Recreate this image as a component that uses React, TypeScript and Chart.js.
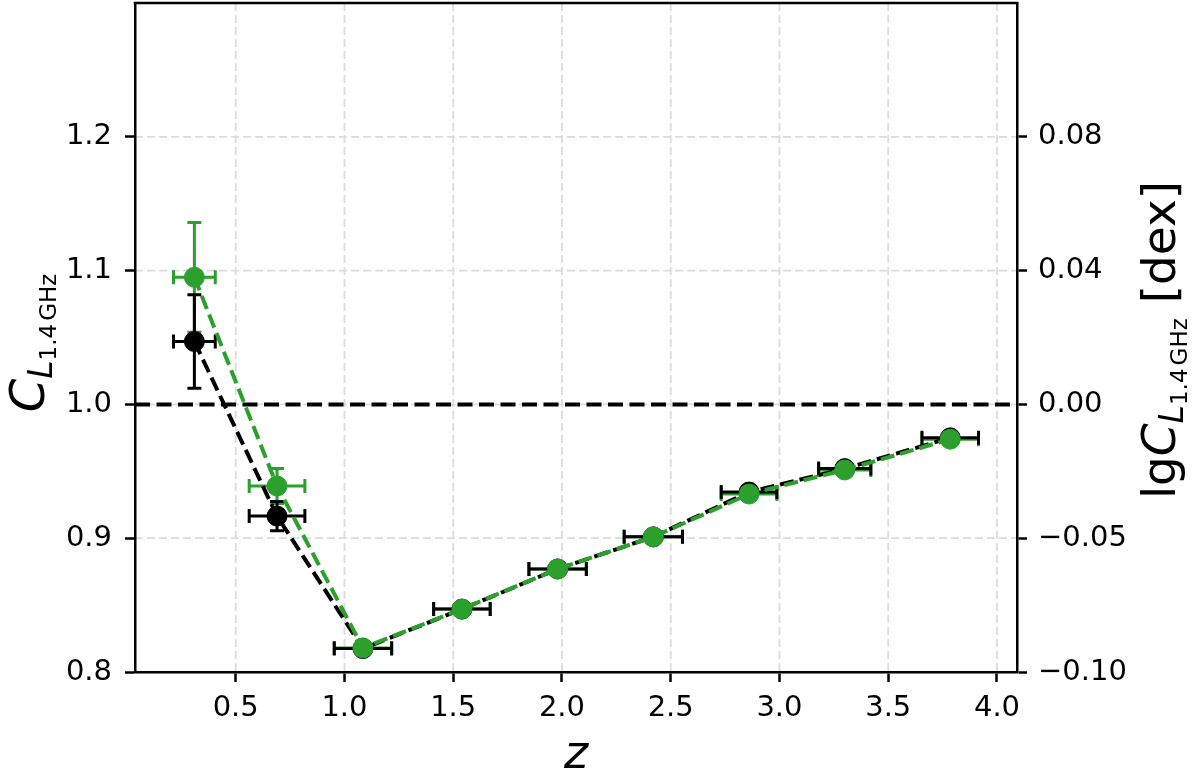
import React, { useEffect, useRef } from "react";
import { Chart, registerables } from "chart.js";

Chart.register(...registerables);

// ---- data ----
const Z = [0.31, 0.69, 1.085, 1.54, 1.98, 2.42, 2.86, 3.3, 3.785];
const Z_ERR = [0.096, 0.128, 0.132, 0.13, 0.132, 0.134, 0.128, 0.12, 0.13];
const C_GREEN = [1.095, 0.939, 0.818, 0.847, 0.877, 0.901, 0.933, 0.951, 0.974];
const C_GREEN_ERR = [0.041, 0.013, 0.004, 0.003, 0.003, 0.003, 0.003, 0.003, 0.003];
const C_BLACK = [1.047, 0.9165, 0.8175, 0.847, 0.877, 0.901, 0.9345, 0.952, 0.975];
const C_BLACK_ERR = [0.035, 0.011, 0.003, 0.003, 0.003, 0.003, 0.003, 0.003, 0.003];

const X_TICKS = [0.5, 1.0, 1.5, 2.0, 2.5, 3.0, 3.5, 4.0];
const Y_TICKS = [0.8, 0.9, 1.0, 1.1, 1.2];
const X_MIN = 0.037;
const X_MAX = 4.092;
const Y_MIN = 0.8;
const Y_MAX = 1.3;
const REF_LEVEL = 1.0;

const GREEN = "#2ca02c";
const BLACK = "#000000";
const FONT = "'DejaVu Sans', sans-serif";

type Part = { text: string; size: number; italic?: boolean; dy?: number; gap?: number };

function drawParts(ctx: CanvasRenderingContext2D, parts: Part[], cx: number, cy: number, rotate: boolean) {
  ctx.save();
  ctx.fillStyle = "#000";
  ctx.textBaseline = "alphabetic";
  ctx.textAlign = "left";
  let total = 0;
  const widths: number[] = [];
  for (const p of parts) {
    ctx.font = `${p.italic ? "italic " : ""}${p.size}px ${FONT}`;
    const w = ctx.measureText(p.text).width + (p.gap || 0);
    widths.push(w);
    total += w;
  }
  ctx.translate(cx, cy);
  if (rotate) ctx.rotate(-Math.PI / 2);
  let x = -total / 2;
  parts.forEach((p, i) => {
    ctx.font = `${p.italic ? "italic " : ""}${p.size}px ${FONT}`;
    ctx.fillText(p.text, x, p.dy || 0);
    x += widths[i];
  });
  ctx.restore();
}

const errorSets = [
  { y: C_GREEN, yerr: C_GREEN_ERR, color: GREEN },
  { y: C_BLACK, yerr: C_BLACK_ERR, color: BLACK },
];

const decorPlugin = {
  id: "decor",
  beforeDraw(chart: any) {
    const { ctx, chartArea: a, scales } = chart;
    const xs = scales.x;
    const ys = scales.y;
    ctx.save();
    ctx.strokeStyle = "#dcdcdc";
    ctx.lineWidth = 1.8;
    ctx.setLineDash([8, 4]);
    for (const v of X_TICKS) {
      const px = xs.getPixelForValue(v);
      ctx.beginPath();
      ctx.moveTo(px, a.top);
      ctx.lineTo(px, a.bottom);
      ctx.stroke();
    }
    for (const v of Y_TICKS) {
      const py = ys.getPixelForValue(v);
      if (Math.abs(py - a.bottom) < 1) continue;
      ctx.beginPath();
      ctx.moveTo(a.left, py);
      ctx.lineTo(a.right, py);
      ctx.stroke();
    }
    ctx.restore();
  },
  beforeDatasetsDraw(chart: any) {
    const { ctx, chartArea: a, scales } = chart;
    const xs = scales.x;
    const ys = scales.y;
    // reference line
    ctx.save();
    ctx.strokeStyle = "#000";
    ctx.lineWidth = 4;
    ctx.setLineDash([15, 6.5]);
    const py = ys.getPixelForValue(REF_LEVEL);
    ctx.beginPath();
    ctx.moveTo(a.left, py);
    ctx.lineTo(a.right, py);
    ctx.stroke();
    ctx.restore();
    // error bars
    ctx.save();
    ctx.setLineDash([]);
    ctx.lineWidth = 3;
    const cap = 7;
    for (const s of errorSets) {
      ctx.strokeStyle = s.color;
      for (let i = 0; i < Z.length; i++) {
        const x0 = xs.getPixelForValue(Z[i] - Z_ERR[i]);
        const x1 = xs.getPixelForValue(Z[i] + Z_ERR[i]);
        const xc = xs.getPixelForValue(Z[i]);
        const yc = ys.getPixelForValue(s.y[i]);
        const y0 = ys.getPixelForValue(s.y[i] - s.yerr[i]);
        const y1 = ys.getPixelForValue(s.y[i] + s.yerr[i]);
        ctx.beginPath();
        ctx.moveTo(x0, yc);
        ctx.lineTo(x1, yc);
        ctx.moveTo(x0, yc - cap);
        ctx.lineTo(x0, yc + cap);
        ctx.moveTo(x1, yc - cap);
        ctx.lineTo(x1, yc + cap);
        ctx.moveTo(xc, y0);
        ctx.lineTo(xc, y1);
        ctx.moveTo(xc - cap, y0);
        ctx.lineTo(xc + cap, y0);
        ctx.moveTo(xc - cap, y1);
        ctx.lineTo(xc + cap, y1);
        ctx.stroke();
      }
    }
    ctx.restore();
  },
  afterDraw(chart: any) {
    const { ctx, chartArea: a } = chart;
    ctx.save();
    ctx.strokeStyle = "#000";
    ctx.lineWidth = 2.5;
    ctx.beginPath();
    ctx.moveTo(a.left - 1.25, a.top);
    ctx.lineTo(a.right + 1.25, a.top);
    ctx.stroke();
    ctx.restore();
    // x title
    drawParts(ctx, [{ text: "z", size: 46, italic: true }], (a.left + a.right) / 2, 768, false);
    // left title
    drawParts(
      ctx,
      [
        { text: "C", size: 48, italic: true },
        { text: "L", size: 33, italic: true, dy: 8 },
        { text: "1.4", size: 23, dy: 12, gap: 3 },
        { text: "GHz", size: 23, dy: 12 },
      ],
      44,
      343,
      true
    );
    // right title
    drawParts(
      ctx,
      [
        { text: "lg", size: 47 },
        { text: "C", size: 47, italic: true },
        { text: "L", size: 33, italic: true, dy: 8 },
        { text: "1.4", size: 23, dy: 12, gap: 3 },
        { text: "GHz", size: 23, dy: 12 },
        { text: " [dex]", size: 47 },
      ],
      1175,
      340,
      true
    );
  },
};

export default function App() {
  const ref = useRef<HTMLCanvasElement | null>(null);
  useEffect(() => {
    if (!ref.current) return;
    const mk = (ys: number[]) => Z.map((x, i) => ({ x, y: ys[i] }));
    const tickFont = { family: FONT, size: 29 };
    const gridOpts = { drawOnChartArea: false, drawTicks: true, tickLength: 10, tickWidth: 2.5, tickColor: "#000" };
    const borderOpts = { display: true, color: "#000", width: 2.5 };
    const chart = new Chart(ref.current, {
      type: "scatter",
      data: {
        datasets: [
          {
            label: "green",
            data: mk(C_GREEN),
            showLine: true,
            borderColor: GREEN,
            borderWidth: 4,
            borderDash: [14, 6],
            pointRadius: 10,
            pointBackgroundColor: GREEN,
            pointBorderColor: GREEN,
            pointBorderWidth: 1,
            yAxisID: "y",
          },
          {
            label: "black",
            data: mk(C_BLACK),
            showLine: true,
            borderColor: BLACK,
            borderWidth: 4,
            borderDash: [14, 6],
            pointRadius: 10,
            pointBackgroundColor: BLACK,
            pointBorderColor: BLACK,
            pointBorderWidth: 1,
            yAxisID: "y",
          },
        ],
      },
      options: {
        animation: false,
        responsive: true,
        maintainAspectRatio: false,
        layout: { autoPadding: false, padding: { top: 3, left: 0, right: 0, bottom: 0 } },
        plugins: { legend: { display: false }, tooltip: { enabled: false } },
        scales: {
          x: {
            type: "linear",
            position: "bottom",
            min: X_MIN,
            max: X_MAX,
            afterBuildTicks: (s: any) => {
              s.ticks = X_TICKS.map((v) => ({ value: v }));
            },
            afterFit: (s: any) => {
              s.height = 103;
              s.paddingLeft = 0;
              s.paddingRight = 0;
            },
            ticks: {
              color: "#000",
              font: tickFont,
              padding: 9,
              maxRotation: 0,
              autoSkip: false,
              callback: (v: any) => Number(v).toFixed(1),
            },
            grid: gridOpts,
            border: borderOpts,
          },
          y: {
            type: "linear",
            position: "left",
            min: Y_MIN,
            max: Y_MAX,
            afterBuildTicks: (s: any) => {
              s.ticks = Y_TICKS.map((v) => ({ value: v }));
            },
            afterFit: (s: any) => {
              s.width = 135;
              s.paddingTop = 0;
              s.paddingBottom = 0;
            },
            ticks: {
              color: "#000",
              font: tickFont,
              padding: 13,
              autoSkip: false,
              callback: (v: any) => Number(v).toFixed(1),
            },
            grid: gridOpts,
            border: borderOpts,
          },
          y2: {
            type: "linear",
            position: "right",
            min: Y_MIN,
            max: Y_MAX,
            afterBuildTicks: (s: any) => {
              s.ticks = Y_TICKS.map((v) => ({ value: v }));
            },
            afterFit: (s: any) => {
              s.width = 183;
              s.paddingTop = 0;
              s.paddingBottom = 0;
            },
            ticks: {
              color: "#000",
              font: tickFont,
              padding: 11,
              autoSkip: false,
              callback: (v: any) => {
                const l = Math.log10(Number(v));
                const t = (Math.abs(l) < 1e-9 ? 0 : l).toFixed(2);
                return t.replace("-", "\u2212");
              },
            },
            grid: gridOpts,
            border: borderOpts,
          },
        },
      } as any,
      plugins: [decorPlugin],
    });
    return () => chart.destroy();
  }, []);
  return (
    <div style={{ position: "absolute", left: 0, top: 0, width: 1200, height: 775, background: "#fff" }}>
      <canvas ref={ref} />
    </div>
  );
}
